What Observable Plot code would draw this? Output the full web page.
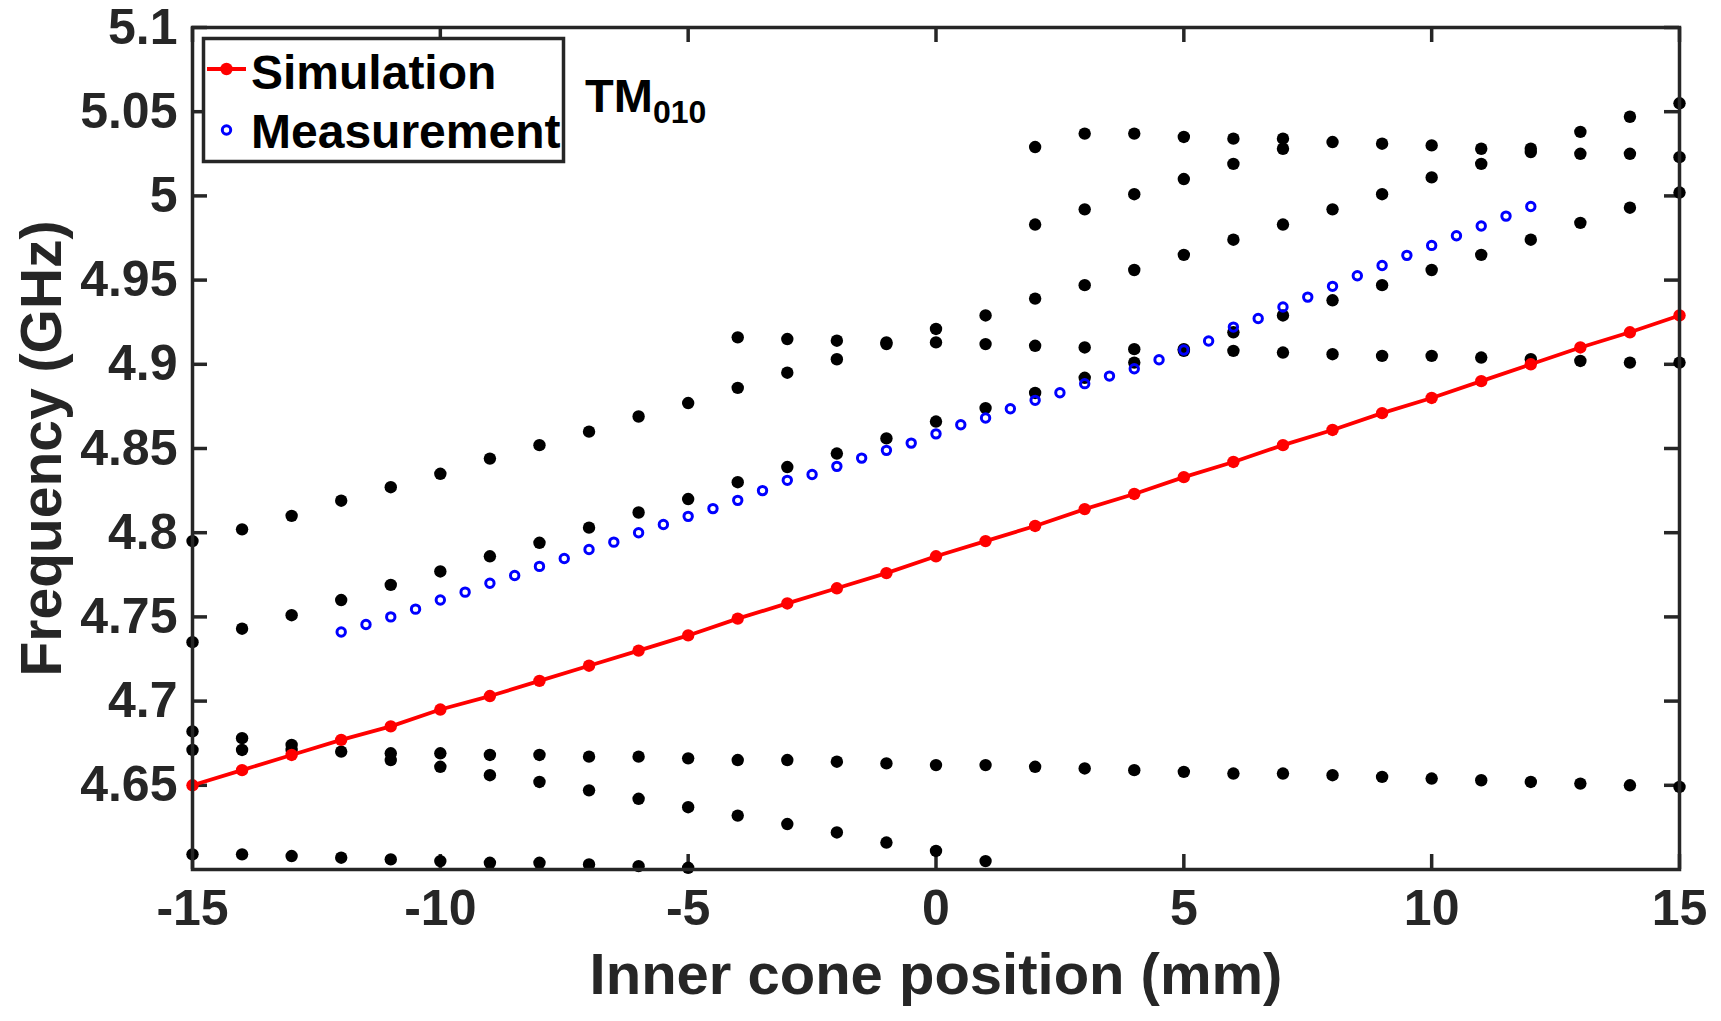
<!DOCTYPE html>
<html>
<head>
<meta charset="utf-8">
<script src="https://cdn.jsdelivr.net/npm/d3@7"></script>
<script src="https://cdn.jsdelivr.net/npm/@observablehq/plot@0.6"></script>
<style>
  html, body { margin: 0; padding: 0; background: #fff; }
  #wrap { position: relative; width: 1721px; height: 1021px; overflow: hidden; }
  #overlay { position: absolute; left: 0; top: 0; pointer-events: none; }
  #overlay text { font-family: "Liberation Sans", Arial, Helvetica, sans-serif; font-weight: bold; }
</style>
</head>
<body>
<div id="wrap"></div>
<script>
// ---------- data ----------
const xTicks = [-15, -10, -5, 0, 5, 10, 15];
const yTicks = [4.65, 4.7, 4.75, 4.8, 4.85, 4.9, 4.95, 5.0, 5.05, 5.1];

// Simulation (red line with dots)
const simX = [-15, -14, -13, -12, -11, -10, -9, -8, -7, -6, -5, -4, -3, -2, -1, 0,
              1, 2, 3, 4, 5, 6, 7, 8, 9, 10, 11, 12, 13, 14, 15];
const simY = [4.650, 4.659, 4.668, 4.677, 4.685, 4.695, 4.703, 4.712, 4.721, 4.730, 4.739,
              4.749, 4.758, 4.767, 4.776, 4.786, 4.795, 4.804, 4.814, 4.823, 4.833,
              4.842, 4.852, 4.861, 4.871, 4.880, 4.890, 4.900, 4.910, 4.919, 4.929];

// Measurement (blue open circles)
const measX = [-12, -11.5, -11, -10.5, -10, -9.5, -9, -8.5, -8, -7.5, -7, -6.5, -6, -5.5, -5,
               -4.5, -4, -3.5, -3, -2.5, -2, -1.5, -1, -0.5, 0, 0.5, 1, 1.5, 2, 2.5, 3, 3.5,
               4, 4.5, 5, 5.5, 6, 6.5, 7, 7.5, 8, 8.5, 9, 9.5, 10, 10.5, 11, 11.5, 12];
const measY = [4.741, 4.7455, 4.750, 4.7546, 4.760, 4.7647, 4.770, 4.7746, 4.780, 4.7847,
               4.790, 4.7944, 4.800, 4.8049, 4.8097, 4.8143, 4.8192, 4.8250, 4.8311, 4.8346,
               4.8394, 4.8443, 4.8489, 4.8532, 4.8587, 4.8641, 4.8681, 4.8736, 4.8786, 4.8831,
               4.8885, 4.8930, 4.8974, 4.9027, 4.9085, 4.9138, 4.9221, 4.9272, 4.9340, 4.9399,
               4.9463, 4.9526, 4.9587, 4.9647, 4.9706, 4.9763, 4.9821, 4.9880, 4.9937];

// Other modes (black dots): positions and the frequencies found at each position
const modeX = [-15, -14, -13, -12, -11, -10, -9, -8, -7, -6, -5, -4, -3, -2, -1, 0,
               1, 2, 3, 4, 5, 6, 7, 8, 9, 10, 11, 12, 13, 14, 15];
const modeY = [
  [4.795, 4.735, 4.682, 4.671, 4.609],
  [4.802, 4.743, 4.678, 4.671, 4.609],
  [4.810, 4.751, 4.674, 4.671, 4.608],
  [4.819, 4.760, 4.670, 4.607],
  [4.827, 4.769, 4.669, 4.665, 4.606],
  [4.835, 4.777, 4.669, 4.661, 4.605],
  [4.844, 4.786, 4.668, 4.656, 4.604],
  [4.852, 4.794, 4.668, 4.652, 4.604],
  [4.860, 4.803, 4.667, 4.647, 4.603],
  [4.869, 4.812, 4.667, 4.642, 4.602],
  [4.877, 4.820, 4.666, 4.637, 4.601],
  [4.916, 4.886, 4.830, 4.665, 4.632],
  [4.915, 4.895, 4.839, 4.665, 4.627],
  [4.914, 4.903, 4.847, 4.664, 4.622],
  [4.913, 4.912, 4.856, 4.663, 4.616],
  [4.921, 4.913, 4.866, 4.662, 4.611],
  [4.929, 4.912, 4.874, 4.662, 4.605],
  [5.029, 4.983, 4.939, 4.911, 4.883, 4.661],
  [5.037, 4.992, 4.947, 4.910, 4.892, 4.660],
  [5.037, 5.001, 4.956, 4.909, 4.901, 4.659],
  [5.035, 5.010, 4.965, 4.909, 4.908, 4.658],
  [5.034, 5.019, 4.974, 4.919, 4.908, 4.657],
  [5.034, 5.028, 4.983, 4.929, 4.907, 4.657],
  [5.032, 4.992, 4.938, 4.906, 4.656],
  [5.031, 5.001, 4.947, 4.905, 4.655],
  [5.030, 5.011, 4.956, 4.905, 4.654],
  [5.028, 5.019, 4.965, 4.904, 4.653],
  [5.028, 5.026, 4.974, 4.903, 4.652],
  [5.038, 5.025, 4.984, 4.902, 4.651],
  [5.047, 5.025, 4.993, 4.901, 4.650],
  [5.055, 5.023, 5.002, 4.901, 4.649]
];

const xLabel = "Inner cone position (mm)";
const yLabel = "Frequency (GHz)";
const legendLabels = ["Simulation", "Measurement"];

// ---------- tables built from the arrays ----------
const sim = simX.map((x, i) => ({x, y: simY[i]}));
const meas = measX.map((x, i) => ({x, y: measY[i]}));
const modes = modeX.flatMap((x, i) => modeY[i].map(y => ({x, y})));

const FONT = '"Liberation Sans", Arial, Helvetica, sans-serif';
const AX = "#262626";
const W = 1721, H = 1021, ML = 192, MR = 42, MT = 27, MB = 152;
const frameW = W - ML - MR, frameH = H - MT - MB, TICK = 15;

const chart = Plot.plot({
  width: W,
  height: H,
  marginLeft: ML,
  marginRight: MR,
  marginTop: MT,
  marginBottom: MB,
  x: {domain: [-15, 15]},
  y: {domain: [4.6, 5.1]},
  style: {fontFamily: FONT, fontWeight: "bold", background: "#fff", overflow: "visible"},
  marks: [
    // tick labels
    Plot.axisX(xTicks, {anchor: "bottom", tickSize: 0, tickPadding: 20, fontSize: 50,
      fill: AX, tickFormat: d => String(d), label: null}),
    Plot.axisY(yTicks, {anchor: "left", tickSize: 0, tickPadding: 15, fontSize: 50,
      fill: AX, tickFormat: d => String(+d.toFixed(2)), label: null}),
    // inward ticks on all four sides
    Plot.ruleX(xTicks, {x: d => d, insetTop: frameH - TICK, stroke: AX, strokeWidth: 3.5}),
    Plot.ruleX(xTicks, {x: d => d, insetBottom: frameH - TICK, stroke: AX, strokeWidth: 3.5}),
    Plot.ruleY(yTicks, {y: d => d, insetRight: frameW - TICK, stroke: AX, strokeWidth: 3.5}),
    Plot.ruleY(yTicks, {y: d => d, insetLeft: frameW - TICK, stroke: AX, strokeWidth: 3.5}),
    // axis titles
    Plot.text([xLabel], {text: d => d, frameAnchor: "bottom", lineAnchor: "bottom", dy: 124,
      textAnchor: "middle", fontSize: 58, fill: AX, fontWeight: "bold"}),
    Plot.text([yLabel], {text: d => d, frameAnchor: "left", textAnchor: "middle",
      lineAnchor: "middle", dx: -150, rotate: -90, fontSize: 57, fill: AX, fontWeight: "bold"}),
    // data
    Plot.dot(modes, {x: "x", y: "y", r: 6.2, fill: "#000", stroke: "none"}),
    Plot.line(sim, {x: "x", y: "y", stroke: "#ff0000", strokeWidth: 3.8}),
    Plot.dot(sim, {x: "x", y: "y", r: 6.2, fill: "#ff0000", stroke: "none"}),
    Plot.dot(meas, {x: "x", y: "y", r: 4.2, fill: "none", stroke: "#0000ff", strokeWidth: 3}),
    Plot.frame({stroke: AX, strokeWidth: 3.5})
  ]
});

const wrap = document.getElementById("wrap");
wrap.appendChild(chart);

// legend box and TM010 annotation
const ns = "http://www.w3.org/2000/svg";
const ov = document.createElementNS(ns, "svg");
ov.setAttribute("id", "overlay");
ov.setAttribute("width", W);
ov.setAttribute("height", H);
ov.innerHTML = `
  <rect x="203.5" y="38.5" width="360" height="123" fill="#fff" stroke="${AX}" stroke-width="3.5"/>
  <line x1="207" y1="69" x2="246" y2="69" stroke="#ff0000" stroke-width="3.8"/>
  <circle cx="226.5" cy="69" r="6.2" fill="#ff0000"/>
  <circle cx="226.5" cy="130" r="4.2" fill="none" stroke="#0000ff" stroke-width="3"/>
  <text x="251" y="89" font-size="48" fill="#000">${legendLabels[0]}</text>
  <text x="251" y="148" font-size="48" fill="#000">${legendLabels[1]}</text>
  <text x="585" y="112" font-size="47" fill="#000">TM<tspan font-size="32" dy="11">010</tspan></text>
`;
wrap.appendChild(ov);
</script>
</body>
</html>
